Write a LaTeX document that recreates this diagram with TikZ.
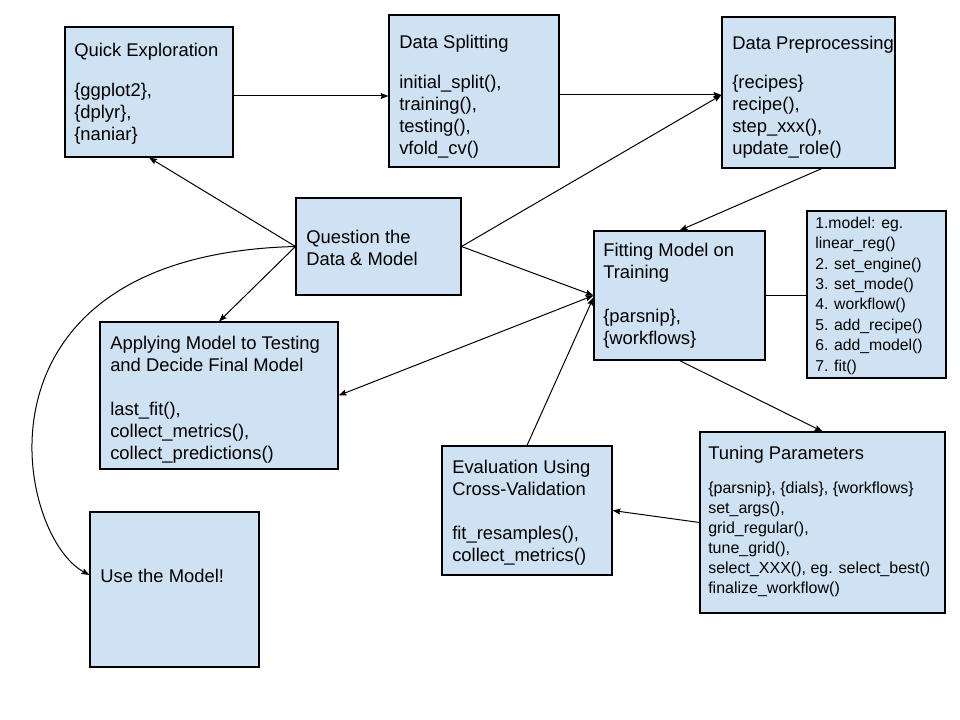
\documentclass[tikz,border=0pt]{standalone}
\usepackage{fontspec}
\setmainfont{Liberation Sans}
\usetikzlibrary{fit,arrows.meta,calc}
\definecolor{boxblue}{HTML}{CFE2F3}
\begin{document}
\begin{tikzpicture}[x=0.75pt,y=-0.75pt,
  box/.style={draw=black, fill=boxblue, line width=0.8pt, inner sep=0pt, rectangle},
  txt/.style={anchor=north west, yshift=11pt, align=left, inner sep=0pt,
    font=\fontsize{13.8pt}{16.5pt}\selectfont},
  smtxt/.style={anchor=north west, yshift=9.5pt, align=left, inner sep=0pt,
    font=\fontsize{11.8pt}{15.3pt}\selectfont},
  tutxt/.style={anchor=north west, yshift=9.5pt, align=left, inner sep=0pt,
    font=\fontsize{12pt}{15pt}\selectfont},
  conn/.style={line width=0.75pt, draw=black},
  arr/.style={conn, -{Stealth[length=6pt,width=4.5pt,inset=1pt]}},
  darr/.style={conn, {Stealth[length=6pt,width=4.5pt,inset=1pt]}-{Stealth[length=6pt,width=4.5pt,inset=1pt]}}]
\useasboundingbox (0,0) rectangle (960,720);
\fill[white] (0,0) rectangle (960,720);

% boxes
\node[box, fit={(65,27) (233,157)}] (qe) {};
\node[box, fit={(389,15) (559,167)}] (ds) {};
\node[box, fit={(722,17) (895,168)}] (dp) {};
\node[box, fit={(296,198) (461,295)}] (q) {};
\node[box, fit={(594,231) (765,360)}] (fm) {};
\node[box, fit={(807,211) (946,378)}] (sm) {};
\node[box, fit={(100,322) (338,469)}] (ap) {};
\node[box, fit={(90,512) (259,667)}] (use) {};
\node[box, fit={(442,446) (612,575)}] (ev) {};
\node[box, fit={(700,432) (945,613)}] (tu) {};

% texts
\node[txt] (tqe) at (74,56) {\rule{0pt}{11pt}Quick Exploration\\[13.5pt]\{ggplot2\},\\\{dplyr\},\\\{naniar\}};
\node[txt] (tds) at (399,48) {\rule{0pt}{11pt}Data Splitting\\[13.5pt]initial\_split(),\\training(),\\testing(),\\vfold\_cv()};
\node[txt] (tdp) at (732,49) {\rule{0pt}{11pt}Data Preprocessing\\[12.75pt]\{recipes\}\\recipe(),\\step\_xxx(),\\update\_role()};
\node[txt] (tq) at (306,243) {\rule{0pt}{11pt}Question the\\Data \& Model};
\node[txt] (tfm) at (603,256) {\rule{0pt}{11pt}Fitting Model on\\Training\\[16.5pt]\{parsnip\},\\\{workflows\}};
\node[smtxt] (tsm) at (815,228) {\rule{0pt}{9.5pt}1.model: eg.\\linear\_reg()\\2. set\_engine()\\3. set\_mode()\\4. workflow()\\5. add\_recipe()\\6. add\_model()\\7. fit()};
\node[txt] (tap) at (110,349) {\rule{0pt}{11pt}Applying Model to Testing\\and Decide Final Model\\[16.5pt]last\_fit(),\\collect\_metrics(),\\collect\_predictions()};
\node[txt] (tuse) at (100,582) {\rule{0pt}{11pt}Use the Model!};
\node[txt] (tev) at (452,473) {\rule{0pt}{11pt}Evaluation Using\\Cross-Validation\\[16.5pt]fit\_resamples(),\\collect\_metrics()};
\node[txt] (ttu) at (708,459) {\rule{0pt}{11pt}Tuning Parameters};
\node[tutxt] (ttub) at (708,493) {\rule{0pt}{9.5pt}\{parsnip\}, \{dials\}, \{workflows\}\\set\_args(),\\grid\_regular(),\\tune\_grid(),\\select\_XXX(), eg. select\_best()\\finalize\_workflow()};

% connector end points on box borders
\coordinate (qeout) at ($(qe.east)+(0,4)$);
\coordinate (dsin) at ($(qe.east -| ds.west)+(0,4)$);
\coordinate (dsout) at ($(ds.east)+(0,4)$);
\coordinate (dpin) at ($(ds.east -| dp.west)+(0,4)$);

% connectors
\draw[arr] (qeout) -- (dsin);
\draw[arr] (dsout) -- (dpin);
\draw[arr] (q.east) -- (dpin);
\draw[arr] (q.east) -- (fm.west);
\draw[arr] (q.west) -- (qe.south);
\draw[arr] (q.west) -- (ap.north);
\draw[arr] (q.west) .. controls (-40,255) and (15,535) .. ([yshift=10.9pt]use.west);
\draw[darr] (fm.west) -- (ap.east);
\draw[arr] (ev.north) -- ([yshift=-1.5pt]fm.west);
\draw[arr] ([xshift=10pt]dp.south) -- (fm.north);
\draw[conn] (fm.east) -- (fm.east -| sm.west);
\draw[arr] (fm.south) -- (tu.north);
\draw[arr] (tu.west) -- (ev.east);
\end{tikzpicture}
\end{document}
